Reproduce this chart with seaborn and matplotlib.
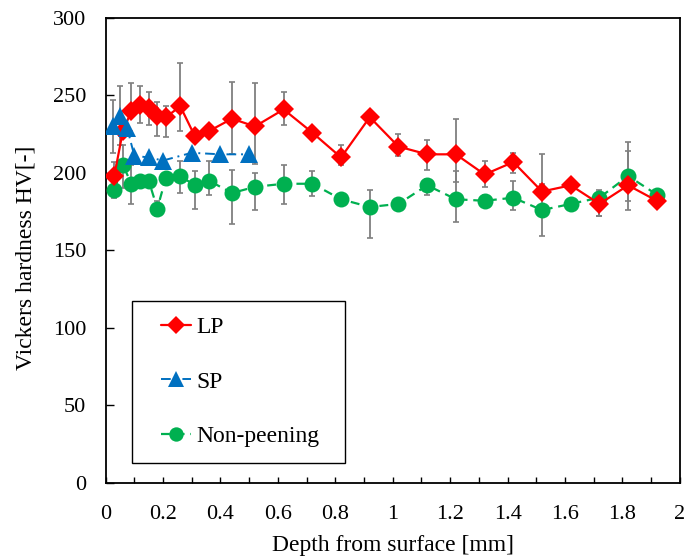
import numpy as np
import pandas as pd
import matplotlib
matplotlib.use("Agg")
import matplotlib.pyplot as plt
from matplotlib.patches import Rectangle
import seaborn as sns

# Laser peening (LP)
lp_depth = [0.03, 0.06, 0.09, 0.12, 0.15, 0.18, 0.21, 0.26, 0.31, 0.36, 0.44, 0.52,
            0.62, 0.72, 0.82, 0.92, 1.02, 1.12, 1.22, 1.32, 1.42, 1.52, 1.62, 1.72, 1.82, 1.92]
lp_hv = [198, 227, 240, 244, 242, 237, 236, 243, 224, 227, 235, 230,
         241, 226, 210, 236, 217, 212, 212, 199, 207, 188, 192, 180, 192, 182]
lp_err_lo = [9, 0, 0, 12, 11, 13, 13, 16, 0, 0, 23, 24,
             10, 0, 5, 0, 6, 10, 18, 8, 7, 0, 0, 8, 10, 0]
lp_err_hi = [9, 0, 18, 12, 10, 9, 7, 28, 0, 0, 24, 28,
             11, 0, 8, 0, 8, 9, 23, 9, 6, 24, 0, 8, 22, 0]

# Shot peening (SP)
sp_depth = [0.025, 0.05, 0.075, 0.1, 0.15, 0.2, 0.3, 0.4, 0.5]
sp_hv = [230, 237, 229, 211, 210, 208, 213, 212, 212]
sp_err = [17, 19, 0, 0, 0, 0, 0, 0, 0]

# Non-peening
np_depth = [0.03, 0.06, 0.09, 0.12, 0.15, 0.18, 0.21, 0.26, 0.31, 0.36, 0.44, 0.52,
            0.62, 0.72, 0.82, 0.92, 1.02, 1.12, 1.22, 1.32, 1.42, 1.52, 1.62, 1.72, 1.82, 1.92]
np_hv = [189, 205, 193, 195, 195, 177, 197, 198, 192, 195, 187, 191,
         193, 193, 183, 178, 180, 192, 183, 182, 184, 176, 180, 184, 198, 186]
np_err_lo = [5, 15, 13, 0, 0, 5, 0, 11, 15, 9, 20, 15,
             13, 8, 0, 20, 0, 6, 15, 4, 8, 17, 0, 12, 22, 0]
np_err_hi = [5, 13, 12, 0, 0, 5, 0, 10, 9, 13, 15, 9,
             12, 8, 0, 11, 0, 4, 18, 4, 11, 17, 0, 5, 22, 0]

x_ticks = [0, 0.2, 0.4, 0.6, 0.8, 1.0, 1.2, 1.4, 1.6, 1.8, 2.0]
x_ticklabels = ["0", "0.2", "0.4", "0.6", "0.8", "1", "1.2", "1.4", "1.6", "1.8", "2"]
y_ticks = [0, 50, 100, 150, 200, 250, 300]

sns.set_theme(style="white")
plt.rcParams["font.family"] = ["Liberation Serif", "DejaVu Serif"]
for key in ["text.color", "axes.labelcolor", "xtick.color", "ytick.color"]:
    plt.rcParams[key] = "black"

fig = plt.figure(figsize=(6.86, 5.56), dpi=100)
ax = fig.add_axes([0.154, 0.1318, 0.837, 0.8358])

RED = "#FF0000"
BLUE = "#0070C0"
GREEN = "#00B050"
GREY = "#7F7F7F"

df_lp = pd.DataFrame({"depth": lp_depth, "hv": lp_hv})
df_sp = pd.DataFrame({"depth": sp_depth, "hv": sp_hv})
df_np = pd.DataFrame({"depth": np_depth, "hv": np_hv})

err_kw = dict(fmt="none", ecolor=GREY, elinewidth=1.3, capsize=2.5, capthick=1.2)
ax.errorbar(df_np["depth"], df_np["hv"], yerr=[np_err_lo, np_err_hi], zorder=2, **err_kw)
ax.errorbar(df_lp["depth"], df_lp["hv"], yerr=[lp_err_lo, lp_err_hi], zorder=2, **err_kw)
ax.errorbar(df_sp["depth"], df_sp["hv"], yerr=sp_err, zorder=2, **err_kw)

sns.lineplot(data=df_np, x="depth", y="hv", ax=ax, color=GREEN, marker="o",
             markersize=11.5, markeredgewidth=0, linewidth=1.6, dashes=(4, 2.6),
             label="Non-peening", zorder=3)
sns.lineplot(data=df_lp, x="depth", y="hv", ax=ax, color=RED, marker="D",
             markersize=10, markeredgewidth=0, linewidth=1.6,
             label="LP", zorder=4)
sns.lineplot(data=df_sp, x="depth", y="hv", ax=ax, color=BLUE, marker="^",
             markersize=13, markeredgewidth=0, linewidth=1.4, dashes=(5, 2.5, 1, 2.5),
             label="SP", zorder=5)

ax.set_xlim(0, 2)
ax.set_ylim(0, 300)
ax.set_xticks(x_ticks)
ax.set_xticklabels(x_ticklabels)
ax.set_xticks(np.arange(0.1, 2.0, 0.2), minor=True)
ax.set_yticks(y_ticks)

ax.tick_params(axis="x", which="both", direction="in", length=4.5, width=1,
               pad=16, labelsize=16, color="black", bottom=True)
ax.tick_params(axis="y", which="both", direction="in", length=6, width=1,
               pad=14, labelsize=16, color="black", left=True)

for side in ["left", "right", "top", "bottom"]:
    ax.spines[side].set_visible(True)
    ax.spines[side].set_color("black")
    ax.spines[side].set_linewidth(1.3)

ax.set_xlabel("Depth from surface [mm]", fontsize=17, labelpad=8)
ax.set_ylabel("Vickers hardness HV[-]", fontsize=17)
ax.yaxis.set_label_coords(-0.121, 0.485)

handles, labels = ax.get_legend_handles_labels()
order = [labels.index(n) for n in ["LP", "SP", "Non-peening"]]
leg = ax.legend([handles[i] for i in order], [labels[i] for i in order],
                loc="center left", bbox_to_anchor=(0.096, 0.2173),
                frameon=False, fontsize=17, borderpad=0, borderaxespad=0,
                labelspacing=1.4, handlelength=1.3, handletextpad=0.2,
                markerscale=0.9)
ax.add_patch(Rectangle((0.0458, 0.0424), 0.371, 0.3486, transform=ax.transAxes,
                       fill=False, edgecolor="black", linewidth=1.0, zorder=6))

fig.savefig("out.png", dpi=100)
